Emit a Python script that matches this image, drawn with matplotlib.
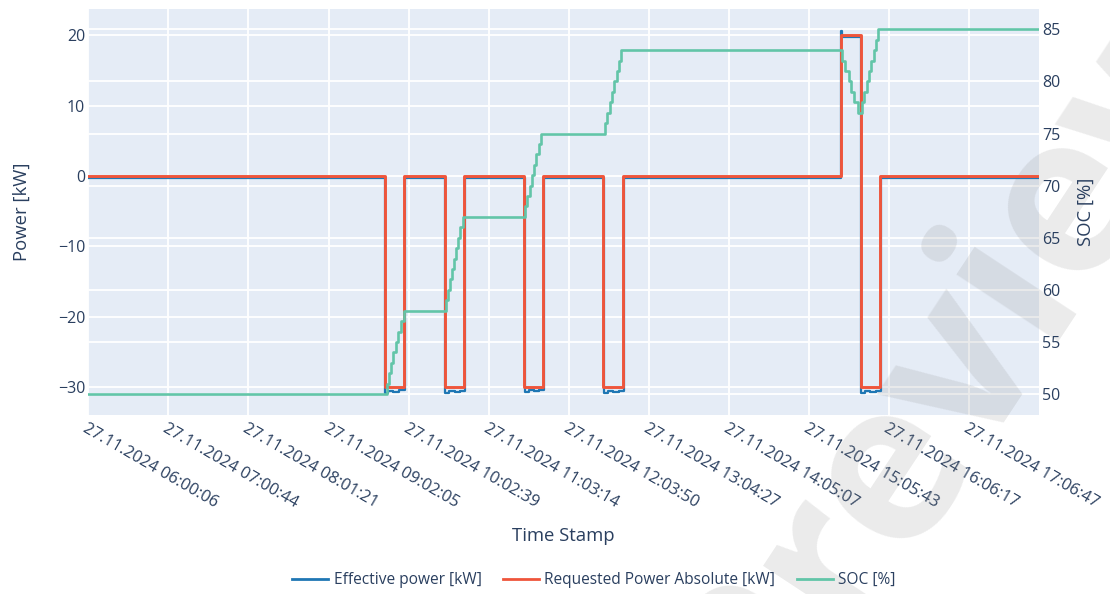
import matplotlib
matplotlib.use("Agg")
import matplotlib.pyplot as plt
from matplotlib.transforms import blended_transform_factory
from matplotlib.lines import Line2D

# ---- data (time in minutes after 27.11.2024 06:00:06) ----
tick_labels = [
    "27.11.2024 06:00:06", "27.11.2024 07:00:44", "27.11.2024 08:01:21",
    "27.11.2024 09:02:05", "27.11.2024 10:02:39", "27.11.2024 11:03:14",
    "27.11.2024 12:03:50", "27.11.2024 13:04:27", "27.11.2024 14:05:07",
    "27.11.2024 15:05:43", "27.11.2024 16:06:17", "27.11.2024 17:06:47",
]
t_end = 719.5

req_time = [0, 224.7, 239.3, 270.1, 284.7, 330.1, 344.5, 389.9, 405.0, 569.7, 584.8, 599.5, t_end]
req_power = [0, -30, 0, -30, 0, -30, 0, -30, 0, 20, -30, 0, 0]

eff_time = [0, 224.9, 227.0, 231.0, 235.0, 239.5,
            270.3, 273.5, 277.5, 281.5, 284.9,
            330.3, 333.5, 337.5, 341.5, 344.7,
            390.1, 393.5, 397.5, 401.5, 405.2,
            569.7, 570.3, 584.9, 588.0, 592.0, 596.0, 599.7, t_end]
eff_power = [-0.3, -30.8, -30.6, -30.7, -30.5, -0.3,
             -30.8, -30.6, -30.7, -30.6, -0.3,
             -30.7, -30.5, -30.6, -30.5, -0.3,
             -30.8, -30.6, -30.7, -30.6, -0.3,
             20.6, 19.7, -30.8, -30.6, -30.7, -30.6, -0.3, -0.3]

soc_time = [0,
            226.0, 227.7, 229.6, 231.1, 233.0, 234.9, 236.8, 238.7,
            270.5, 272.0, 273.7, 275.3, 276.9, 278.5, 280.1, 281.7, 283.4,
            330.6, 332.4, 334.1, 335.8, 337.6, 339.3, 341.1, 342.8,
            391.2, 392.9, 394.7, 396.5, 398.3, 400.0, 401.8, 403.6,
            570.8, 573.1, 575.4, 577.6, 579.9, 582.2,
            585.6, 587.4, 589.1, 590.8, 592.6, 594.3, 596.1, 597.8,
            t_end]
soc_value = [50,
             51, 52, 53, 54, 55, 56, 57, 58,
             59, 60, 61, 62, 63, 64, 65, 66, 67,
             68, 69, 70, 71, 72, 73, 74, 75,
             76, 77, 78, 79, 80, 81, 82, 83,
             82, 81, 80, 79, 78, 77,
             78, 79, 80, 81, 82, 83, 84, 85,
             85]

power_ticks = [-30, -20, -10, 0, 10, 20]
soc_ticks = [50, 55, 60, 65, 70, 75, 80, 85]


def minutes_of(label):
    hh, mm, ss = (int(p) for p in label.split()[1].split(":"))
    return (hh - 6) * 60 + mm + ss / 60 - 0.1


tick_pos = [minutes_of(s) for s in tick_labels]

# ---- style ----
BG = "#e5ecf6"
TXT = "#2a3f5f"
C_EFF = "#1f77b4"
C_REQ = "#ef553b"
C_SOC = "#62c5a8"
FONT = "Open Sans"
plt.rcParams["font.family"] = [FONT, "DejaVu Sans"]

fig = plt.figure(figsize=(11.10, 5.94), dpi=100)
ax = fig.add_axes([88 / 1110, 1 - 415 / 594, 951 / 1110, 406 / 594])
ax2 = ax.twinx()

ax.set_facecolor(BG)
for sp in list(ax.spines.values()) + list(ax2.spines.values()):
    sp.set_visible(False)

ax.set_xlim(0, t_end)
ax.set_ylim(-34.0, 23.75)
ax2.set_ylim(47.99, 86.95)

# grid lines (both y axes), kept beneath the traces
ax.set_axisbelow(True)
ax.grid(True, color="white", lw=1.3)
blend = blended_transform_factory(ax.transAxes, ax2.transData)
for v in soc_ticks:
    ax.add_line(Line2D([0, 1], [v, v], transform=blend, color="white", lw=1.3, zorder=0.6))

# watermark
ax.text(963 / 1110, 1 - 350 / 594, "Preview", transform=fig.transFigure,
        fontsize=160, fontweight="bold", color="#808080", alpha=0.16, rotation=56.6,
        ha="center", va="center", zorder=1, clip_on=False, family=FONT)

# traces
ax.plot(eff_time, eff_power, drawstyle="steps-post", color=C_EFF, lw=1.6, zorder=2)
ax.plot(req_time, req_power, drawstyle="steps-post", color=C_REQ, lw=2.1, zorder=2.1)
ax2.plot(soc_time, soc_value, drawstyle="steps-post", color=C_SOC, lw=1.9)

# ticks
ax.set_xticks(tick_pos)
ax.set_xticklabels(tick_labels, rotation=-30, ha="left", va="top",
                   rotation_mode="anchor", fontsize=11.8, color=TXT)
ax.set_yticks(power_ticks)
ax.set_yticklabels([f"{v:g}".replace("-", "\u2212") for v in power_ticks], fontsize=11.5, color=TXT)
ax2.set_yticks(soc_ticks)
ax2.set_yticklabels([str(v) for v in soc_ticks], fontsize=11.5, color=TXT)
ax.tick_params(axis="both", length=0, pad=2)
ax.tick_params(axis="x", pad=4)
ax2.tick_params(axis="y", length=0, pad=2)

# axis titles
fig.text(22 / 1110, 1 - 212 / 594, "Power [kW]", rotation=90, ha="center", va="center",
         fontsize=13.3, color=TXT)
fig.text(1086 / 1110, 1 - 212 / 594, "SOC [%]", rotation=90, ha="center", va="center",
         fontsize=13.3, color=TXT)
fig.text(563 / 1110, 1 - 536 / 594, "Time Stamp", ha="center", va="center",
         fontsize=13.3, color=TXT)

# legend
handles = [Line2D([], [], color=C_EFF, lw=2),
           Line2D([], [], color=C_REQ, lw=2),
           Line2D([], [], color=C_SOC, lw=2)]
fig.legend(handles, ["Effective power [kW]", "Requested Power Absolute [kW]", "SOC [%]"],
           loc="center", bbox_to_anchor=(594 / 1110, 1 - 580 / 594), ncol=3, frameon=False,
           fontsize=11.2, labelcolor=TXT, handlelength=2.3, handletextpad=0.35,
           columnspacing=1.4)

fig.savefig("out.png", dpi=100, facecolor="white")
